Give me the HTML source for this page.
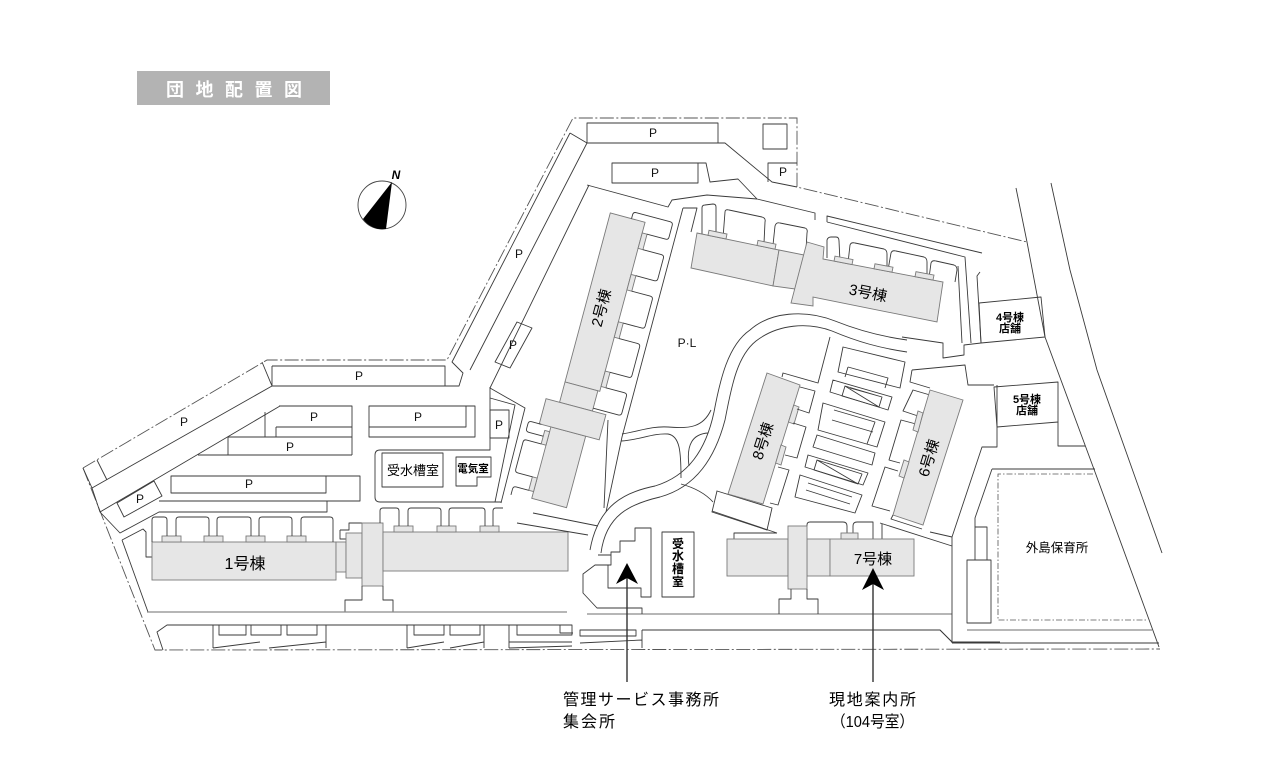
<!DOCTYPE html>
<html><head><meta charset="utf-8">
<style>
html,body{margin:0;padding:0;background:#fff;}
svg{display:block;}
.l{fill:none;stroke:#3a3a3a;stroke-width:0.9;stroke-linejoin:round}
.g{fill:none;stroke:#8a8a8a;stroke-width:1.3}
.d{fill:none;stroke:#555;stroke-width:0.9;stroke-dasharray:14 2.5 2 2.5}
.dd{fill:none;stroke:#555;stroke-width:0.8;stroke-dasharray:6 2 1.5 2}
.b{fill:#e6e6e6;stroke:#7a7a7a;stroke-width:0.9}
.w{fill:#fff;stroke:#3a3a3a;stroke-width:0.9}
.p{font-size:12px;fill:#111;text-anchor:middle}
text{font-family:"Liberation Sans","Noto Sans CJK JP",sans-serif;}
</style></head>
<body>
<svg width="1281" height="769" viewBox="0 0 1281 769" xmlns="http://www.w3.org/2000/svg">
<rect width="1281" height="769" fill="#fff"/>

<!-- Title -->
<rect x="137" y="71" width="193" height="34" fill="#b3b3b3"/>
<g fill="#fff" font-size="18" font-weight="bold" text-anchor="middle">
<text x="175" y="96">団</text><text x="204.5" y="96">地</text><text x="234" y="96">配</text><text x="263.5" y="96">置</text><text x="293" y="96">図</text>
</g>

<!-- Compass -->
<circle cx="382" cy="205" r="24" fill="#fff" stroke="#444" stroke-width="0.9"/>
<path d="M392,182 L363,219 A24,24 0 0 0 386,229 Z" fill="#000"/>
<text x="396" y="179" font-size="12" font-weight="bold" font-style="italic" text-anchor="middle">N</text>

<!-- Site boundary (dash-dot) -->
<path class="d" d="M83,468 L267,360 L447,360 L573,118 L797,118 L797,187 L1027,242"/>
<path class="d" d="M83,468 L155,650 L1160,649"/>
<path class="dd" d="M1093,474 H998 V620 H1148"/>

<!-- NW strip -->
<path class="l" d="M570,133 L452,362 L463,373 L459,386 H272 M587,143 L470,370 M570,133 L587,143"/>
<path class="l" d="M272,366 H445 V386 M262,362 L272,386 M272,366 V386"/>
<path class="l" d="M92,488 L272,386 M83,468 L92,488 M97,460 L107,480 M92,488 L100,512 L280,406 M100,512 L120,533 L159,512 H327 V501"/>
<path class="l" d="M495,362 L517,322 L532,328 L510,368 Z"/>
<path class="l" d="M589,185 L490,388 L525,408 L501,503 M490,398 L515,405 L495,502"/>

<!-- top P areas -->
<rect class="l" x="587" y="123" width="131" height="20"/>
<rect class="l" x="612" y="163" width="86" height="20"/>
<rect class="l" x="763" y="124" width="24" height="25"/>
<path class="l" d="M768,182 V163 H797"/>
<path class="l" d="M718,143 H725 L772,182 L797,187"/>
<path class="l" d="M698,163 H706 L710,182 L738,179 L757,199 L815,213 V220"/>
<path class="l" d="M587,185 L668,207 L672,200 L707,195 L757,199"/>
<path class="l" d="M683,208 H697 L691,232"/>
<path class="l" d="M827,222 V216 L982,253 M827,222 L965,257 L971,343 M958,266 L962,343 M980,272 L977,276 L981,343"/>

<!-- middle-left P areas -->
<path class="l" d="M279,406 H352 V455 M276,427 H352 M276,427 V437 M265,412 V437 M228,437 H352 M228,437 V455 M198,455 H352"/>
<path class="l" d="M369,406 H466 V427 H369 Z M466,406 H475 V437 H369 V427"/>
<path class="l" d="M490,387 V450 H380 Q375,450 375,455 V497 Q375,502 380,502 H501"/>
<rect class="l" x="490" y="410" width="19" height="28"/>
<rect class="l" x="382" y="453" width="61" height="34"/>
<path class="l" d="M456,457 H491 V477 H477 V486 H456 Z"/>
<rect class="l" x="171" y="476" width="155" height="17"/>
<path class="l" d="M326,476 H360 V501 H159"/>
<path class="l" d="M117,503 L154,481 L162,496 L124,517 Z"/>
<path class="l" d="M122,540 L143,529 L146,532 V557 H152 M122,540 L148,612"/>

<!-- 1号棟 -->
<path class="l" d="M340,530 H349 V523 H362 M340,530 V539 H346"/>
<rect class="b" x="152" y="542" width="184" height="38"/>
<rect class="b" x="336" y="542" width="10" height="30"/>
<rect class="b" x="346" y="533" width="16" height="45"/>
<rect class="b" x="362" y="523" width="21" height="63"/>
<rect class="b" x="383" y="532" width="185" height="39"/>
<g class="b">
<rect x="162" y="536" width="19" height="6"/><rect x="204" y="536" width="19" height="6"/><rect x="246" y="536" width="19" height="6"/><rect x="287" y="536" width="19" height="6"/>
<rect x="394" y="526" width="19" height="6"/><rect x="437" y="526" width="19" height="6"/><rect x="480" y="526" width="19" height="6"/>
</g>
<path class="l" d="M152,542 V520 Q152,517 155,517 H164 Q167,517 167,520 V536 M176,536 V520 Q176,517 179,517 H206 Q209,517 209,520 V536 M217,536 V520 Q217,517 220,517 H248 Q251,517 251,520 V536 M259,536 V520 Q259,517 262,517 H289 Q292,517 292,520 V536 M301,536 V520 Q301,517 304,517 H330 Q333,517 333,520 V542"/>
<path class="l" d="M380,523 V511 Q380,508 383,508 H396 Q399,508 399,511 V526 M408,526 V511 Q408,508 411,508 H438 Q441,508 441,511 V526 M449,526 V511 Q449,508 452,508 H482 Q485,508 485,511 V526 M493,526 V511 Q493,508 496,508 H503"/>
<path class="l" d="M362,586 V600 H345 V612 M383,586 V600 H393 V612"/>
<path class="g" d="M147,612 H567 M587,614 H952"/>
<path class="l" d="M533,513 L598,526 M517,523 L588,535"/>

<!-- bottom strip -->
<path class="l" d="M163,650 L157,632 L167,625 H572 M642,630 H940 L952,642 H1000"/>
<path class="l" d="M213,625 V648 M326,625 V648 M213,648 L260,642 M269,648 L326,642"/>
<rect class="l" x="219" y="625" width="27" height="10"/><rect class="l" x="251" y="625" width="30" height="10"/><rect class="l" x="287" y="625" width="30" height="10"/>
<path class="l" d="M407,625 V648 M484,625 V648 M407,648 L444,642 M450,648 L484,642"/>
<rect class="l" x="414" y="625" width="30" height="10"/><rect class="l" x="450" y="625" width="30" height="10"/>
<path class="l" d="M509,625 V648 M509,642 H572 M509,648 L572,646"/>
<rect class="l" x="517" y="625" width="55" height="10"/>
<path class="l" d="M560,625 V633 H573 M580,630 H636 V636 H580 Z M642,630 V648 M580,643 L642,640"/>

<!-- 2号棟 -->
<path class="l" d="M683,208 L622,437 L606,512 M608,420 L604,508"/>
<g transform="translate(565,382) rotate(-75)">
<rect class="b" x="0" y="0" width="175" height="36"/>
<rect class="b" x="-21" y="0" width="21" height="34"/>
<rect class="b" x="-121" y="-2" width="74" height="36"/>
<rect class="b" x="-47" y="-14" width="26" height="62"/>
<rect class="b" x="5" y="36" width="16" height="5"/><rect class="b" x="56" y="36" width="16" height="5"/><rect class="b" x="105" y="36" width="16" height="5"/><rect class="b" x="148" y="36" width="16" height="5"/>
<rect class="b" x="-66" y="-7" width="14" height="5"/><rect class="b" x="-114" y="-7" width="14" height="5"/>
<path class="l" d="M-18,34 V60 Q-18,63 -15,63 H2 Q5,63 5,60 V41 M21,41 V60 Q21,63 24,63 H53 Q56,63 56,60 V41 M72,41 V60 Q72,63 75,63 H102 Q105,63 105,60 V41 M121,41 V60 Q121,63 124,63 H145 Q148,63 148,60 V41 M164,41 V60 Q164,63 167,63 H179 Q182,63 182,60 V25 Q182,22 179,22 H175"/>
<path class="l" d="M-47,-12 V-22 Q-47,-25 -50,-25 H-55 Q-58,-25 -58,-22 V-7 M-66,-7 V-22 Q-66,-25 -69,-25 H-97 Q-100,-25 -100,-22 V-7 M-114,-7 V-20 Q-114,-23 -117,-23 H-123"/>
<text x="81" y="21" text-anchor="middle" font-size="15">2号棟</text>
</g>

<!-- 3号棟 -->
<path class="l" d="M702,236 V208 Q702,205 705,205 L713,204 Q716,204 716,207 V236 M723,238 L725,212 Q725,209 729,210 L762,217 Q766,218 765,222 L764,243 M773,245 L775,226 Q776,222 780,223 L805,228 Q808,229 807,233 L806,250 M827,258 V240 Q828,237 831,237 H836 Q839,237 839,241 L840,262 M848,263 L850,245 Q851,242 855,243 L884,249 Q887,250 887,254 L887,270 M888,270 L891,253 Q892,250 896,251 L924,257 Q927,258 927,262 L927,278 M929,278 L931,263 Q932,260 936,261 L954,265 Q957,266 957,270 L955,282"/>
<polygon class="b" points="697,233 779,250 773,286 691,268"/>
<polygon class="b" points="779,250 804,255 795,289 773,286"/>
<polygon class="b" points="807,242 824,247 823,259 943,282 937,322 813,297 813,306 791,303"/>
<g class="b">
<polygon points="708,235.3 726,239 727,234 709,230.3"/>
<polygon points="757,245.4 775,249.2 776,244.2 758,240.4"/>
<polygon points="834,261.1 852,264.6 853,259.6 835,256.1"/>
<polygon points="874,268.8 892,272.2 893,267.2 875,263.8"/>
<polygon points="915,276.7 933,280.1 934,275.1 916,271.7"/>
</g>
<text transform="translate(868,293) rotate(11.5)" y="5" text-anchor="middle" font-size="15">3号棟</text>

<!-- loop road -->
<path class="l" d="M907,340 C885,337 860,331 835,321 C805,309 770,312 750,330 C728,345 720,380 714,412 C706,450 688,476 655,486 C625,492 598,505 590,550"/>
<path class="l" d="M907,352 C880,348 858,342 832,331 C808,322 778,324 756,341 C736,357 731,390 725,420 C715,458 696,487 660,497 C630,504 606,515 601,553"/>
<path class="l" d="M622,434 C640,431 652,426 668,427 C690,429 703,427 711,410 M621,441 C640,440 652,433 668,434 C680,436 681,452 681,478 M708,433 C693,434 686,444 689,466 M681,484 C692,487 704,492 713,502"/>
<text x="687" y="347" class="p">P·L</text>

<!-- area between 8 and 6 -->
<path class="l" d="M830,337 L818,383 L783,373 L782,377 M843,347 L838,372 L900,388 L905,362 Z"/>
<path class="l" d="M848,367 L888,378 L885,388 M848,367 L845,377"/>
<path class="l" d="M902,337 L943,343 V358 L964,355 V345 L981,343 M912,370 L965,365 L968,385 L994,385 M912,370 L910,382 L930,388"/>
<g class="l">
<polygon points="833,380 892,397 888,410 830,392"/>
<polygon points="823,403 885,422 877,447 818,430"/>
<polygon points="817,435 875,453 872,465 813,447"/>
<polygon points="808,455 868,473 863,485 805,467"/>
<polygon points="800,475 862,495 855,513 795,497"/>
<path d="M845,386 L882,397 L879,407 L842,396 Z M845,386 L879,407 M850,388 L882,397"/>
<path d="M834,410 L875,422 L867,444 M832,420 L873,432"/>
<path d="M817,460 L862,474 L858,484 L814,470 Z M817,460 L858,484 M827,463 L862,474"/>
<path d="M808,483 L852,497 M806,490 L850,504"/>
</g>

<!-- 8号棟 -->
<polygon class="w" points="717,491 772,508 767,530 712,512"/>
<polygon class="b" points="767,373 800,385 763,504 728,494"/>
<polygon class="b" points="793.8,405 799,407 794,424 788.5,422"/>
<polygon class="b" points="781,445 786,447 781,465 775.7,463"/>
<path class="l" d="M800,387 L815,391 L809,413 L797,409 M793,423 L806,427 L797,458 L785,455 M778,467 L789,470 L778,505 L770,503"/>
<text transform="translate(763,441) rotate(-72)" y="5" text-anchor="middle" font-size="15">8号棟</text>
<path class="l" d="M712,511 L777,533"/>

<!-- 6号棟 -->
<path class="l" d="M930,395 L913,390 L903,411 L918,416 M916,424 L901,420 L889,460 L900,463 M898,471 L885,467 L872,506 L890,511"/>
<polygon class="b" points="930,390 963,400 923,525 893,515"/>
<polygon class="b" points="923,413 918,432 913,430 918,411"/>
<polygon class="b" points="909,462 904,478 899,476 904,460"/>
<text transform="translate(929,458) rotate(-73)" y="5" text-anchor="middle" font-size="15">6号棟</text>
<path class="l" d="M880,523 L952,546 M893,515 L891,519 L922,529"/>

<!-- 4,5号棟 -->
<polygon class="l" points="979,303 1041,297 1045,337 981,343"/>
<text x="1010" y="321" text-anchor="middle" font-size="11" font-weight="bold">4号棟</text>
<text x="1010" y="332" text-anchor="middle" font-size="11" font-weight="bold">店舗</text>
<polygon class="l" points="994,387 1058,382 1058,422 997,427"/>
<text x="1027" y="403" text-anchor="middle" font-size="11" font-weight="bold">5号棟</text>
<text x="1027" y="414" text-anchor="middle" font-size="11" font-weight="bold">店舗</text>
<path class="l" d="M997,385 V447 H982 L952,537 V643 M1058,422 V446 H1085 M930,532 L952,537"/>

<!-- right road -->
<path class="l" d="M1016,188 L1027,242 L1045,337 L1095,472 L1159,647"/>
<path class="l" d="M1051,183 L1070,270 L1097,370 L1162,553"/>

<!-- 保育所 -->
<path class="l" d="M992,469 H1095 M992,469 L975,518 V527"/>
<rect class="l" x="975" y="527" width="12" height="33"/>
<rect class="l" x="967" y="560" width="24" height="63"/>
<path class="g" d="M967,630 H1152"/>
<path class="l" d="M952,643 H1159 M940,630 L952,642"/>
<text x="1057" y="552" text-anchor="middle" font-size="12.5">外島保育所</text>

<!-- management building -->
<path class="l" d="M635,528 H651 V597 H641 V588 H608 V565 H611 V552 H620 V541 H635 Z"/>
<path class="l" d="M611,565 H595 L583,574 V593 L597,608 H642 V614 M598,555 H611"/>
<rect class="l" x="662" y="532" width="32" height="65"/>
<g font-size="12" font-weight="bold" text-anchor="middle">
<text x="678" y="548">受</text><text x="678" y="560">水</text><text x="678" y="573">槽</text><text x="678" y="586">室</text>
</g>

<!-- 7号棟 -->
<path class="l" d="M734,539 V533 H777 M807,526 V525 Q807,522 810,522 H843 Q847,522 847,526 V533 M853,533 V526 Q853,522 857,522 H873 V539 M882,524 V539"/>
<rect class="b" x="727" y="539" width="61" height="37"/>
<rect class="b" x="807" y="539" width="23" height="37"/>
<rect class="b" x="830" y="539" width="84" height="37"/>
<rect class="b" x="788" y="526" width="19" height="63"/>
<rect class="b" x="841" y="533" width="17" height="6"/>
<path class="l" d="M791,589 V599 H779 V614 M807,589 V599 H818 V614"/>
<text x="873" y="564" text-anchor="middle" font-size="15">7号棟</text>

<!-- 1号棟 label -->
<text x="245" y="569" text-anchor="middle" font-size="16">1号棟</text>

<!-- small labels -->
<text x="413" y="475" text-anchor="middle" font-size="13">受水槽室</text>
<text x="473" y="472" text-anchor="middle" font-size="10.5" font-weight="bold">電気室</text>

<!-- P labels -->
<g class="p">
<text x="653" y="137" class="p">P</text>
<text x="655" y="177" class="p">P</text>
<text x="783" y="176" class="p">P</text>
<text x="519" y="258" class="p">P</text>
<text x="513" y="349" class="p">P</text>
<text x="359" y="380" class="p">P</text>
<text x="314" y="421" class="p">P</text>
<text x="290" y="451" class="p">P</text>
<text x="418" y="421" class="p">P</text>
<text x="499" y="429" class="p">P</text>
<text x="184" y="426" class="p">P</text>
<text x="249" y="488" class="p">P</text>
<text x="140" y="503" class="p">P</text>
</g>

<!-- arrows -->
<line x1="627" y1="578" x2="627" y2="682" stroke="#333" stroke-width="1.4"/>
<polygon points="627,563 638,584 627,578 616,584" fill="#000"/>
<line x1="873" y1="583" x2="873" y2="682" stroke="#333" stroke-width="1.4"/>
<polygon points="873,568 884,590 873,584 862,590" fill="#000"/>

<!-- bottom labels -->
<text x="563" y="705" font-size="16" textLength="156" lengthAdjust="spacing">管理サービス事務所</text>
<text x="563" y="727" font-size="16" textLength="52" lengthAdjust="spacing">集会所</text>
<text x="829" y="705" font-size="16" textLength="87" lengthAdjust="spacing">現地案内所</text>
<text x="831" y="727" font-size="16" textLength="83" lengthAdjust="spacingAndGlyphs">（104号室）</text>
</svg>
</body></html>
